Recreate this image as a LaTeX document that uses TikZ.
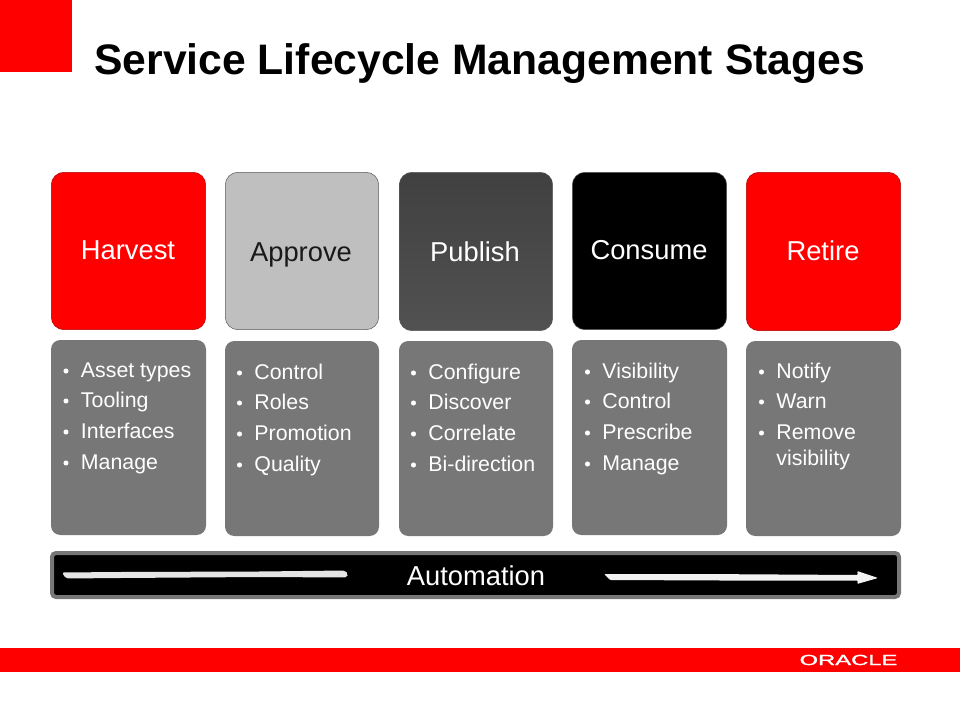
\documentclass[tikz,border=0pt]{standalone}
\usepackage{fontspec}
\setmainfont{Liberation Sans}
\newfontfamily\logofont[RawFeature={embolden=1.2}]{Liberation Sans}
\definecolor{oraclered}{HTML}{FF0000}
\definecolor{bodygray}{HTML}{777777}
\definecolor{edgegray}{HTML}{595959}
\tikzset{
  head/.style={rounded corners=9.5pt,draw=edgegray,line width=0.4pt,inner sep=0pt},
  body/.style={rounded corners=7pt,fill=bodygray},
  headlabel/.style={text=#1,font=\fontsize{20.5}{24}\selectfont,anchor=base,inner sep=0pt},
  item/.style={text=white,font=\fontsize{16}{19}\selectfont,anchor=base west,inner sep=0pt},
  dot/.style={circle,fill=white,inner sep=0pt,minimum size=3.8pt},
}
% \itm{name}{bullet x}{baseline y}{text}
\newcommand{\itm}[4]{%
  \node[dot] (#1d) at (#2,#3-6) {};
  \node[item] (#1) at (#2+14.7,#3) {#4};}
\begin{document}
\begin{tikzpicture}[x=0.75pt,y=-0.75pt]
\useasboundingbox (0,0) rectangle (960,720);
\fill[oraclered] (0,0) rectangle (72,72);
\node[anchor=base west,inner sep=0pt,font=\bfseries\fontsize{32}{38}\selectfont] (title) at (94,75) {Service Lifecycle Management Stages};

% header boxes
\path[head,fill=oraclered,draw=oraclered!70!black] (51.3,172.3) rectangle (205.7,329.7);
\path[head,fill=black!25] (225.3,172.3) rectangle (378.7,329.7);
\path[head,top color=black!75,bottom color=black!68] (399.3,172.3) rectangle (552.7,330.7);
\path[head,fill=black] (572.3,172.3) rectangle (726.7,329.7);
\path[head,fill=oraclered,draw=oraclered!70!black] (746.3,172.3) rectangle (900.7,330.7);
\node[headlabel=white] (harvest) at (128,260) {Harvest};
\node[headlabel=black!90] (approve) at (301,262) {Approve};
\node[headlabel=white] (publish) at (475,262) {Publish};
\node[headlabel=white] (consume) at (649,260) {Consume};
\node[headlabel=white] (retire) at (823,261) {Retire};

% body boxes
\fill[body] (51,340) rectangle (206,535);
\fill[body] (225,341) rectangle (379,536);
\fill[body] (399,341) rectangle (553,536);
\fill[body] (572,340) rectangle (727,535);
\fill[body] (746,341) rectangle (901,536);

\itm{a1}{66}{377}{Asset types}
\itm{a2}{66}{407}{Tooling}
\itm{a3}{66}{438}{Interfaces}
\itm{a4}{66}{469}{Manage}

\itm{b1}{239.5}{379}{Control}
\itm{b2}{239.5}{409}{Roles}
\itm{b3}{239.5}{440}{Promotion}
\itm{b4}{239.5}{471}{Quality}

\itm{c1}{413.5}{379}{Configure}
\itm{c2}{413.5}{409}{Discover}
\itm{c3}{413.5}{440}{Correlate}
\itm{c4}{413.5}{471}{Bi-direction}

\itm{d1}{587.5}{378}{Visibility}
\itm{d2}{587.5}{408}{Control}
\itm{d3}{587.5}{439}{Prescribe}
\itm{d4}{587.5}{470}{Manage}

\itm{e1}{761.5}{378}{Notify}
\itm{e2}{761.5}{408}{Warn}
\itm{e3}{761.5}{439}{Remove}
\node[item] (e4) at (776.2,465) {visibility};

% automation bar
\draw[bodygray,fill=black,line width=3pt,rounded corners=3pt] (52,553) rectangle (899,597);
\node[text=white,font=\fontsize{20.5}{24}\selectfont,anchor=base,inner sep=0pt] (auto) at (476,585) {Automation};
\fill[white!90!black,rounded corners=1.5pt] (62,572.5) -- (120,572) -- (260,571.5) -- (345,570.5) -- (348,574) -- (347,577.5) -- (260,577) -- (120,578) -- (66,578.5) -- cycle;
\fill[white!95!black,rounded corners=0.8pt] (604,574) -- (700,574) -- (858,575) -- (857,571) -- (878,578) -- (857,584) -- (858,580.5) -- (720,580.5) -- (610,580) -- cycle;

% footer
\fill[oraclered] (0,648) rectangle (960,672);
\node[text=white,inner sep=0pt,font=\logofont\fontsize{11}{12}\selectfont,xscale=1.62,anchor=center] (oracle) at (848.5,660) {ORACLE};
\end{tikzpicture}
\end{document}
